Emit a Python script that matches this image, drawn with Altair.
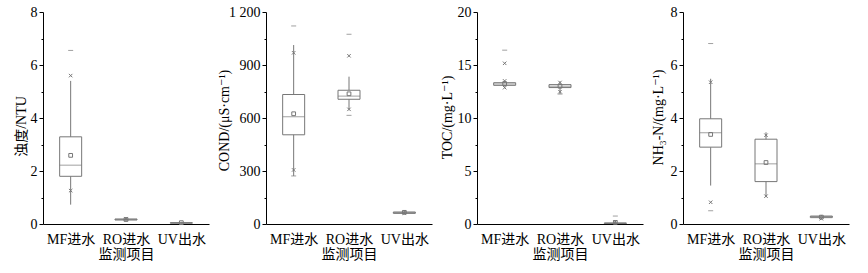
import altair as alt
import pandas as pd

CATEGORIES = ["MF进水", "RO进水", "UV出水"]
X_TITLE = "监测项目"

# Panel 1: turbidity
TURB_Q1 = [1.80, 0.15, 0.03]
TURB_MED = [2.22, 0.17, 0.04]
TURB_Q3 = [3.29, 0.19, 0.05]
TURB_MEAN = [2.59, 0.17, 0.05]
TURB_LO = [0.73, 0.11, 0.02]
TURB_HI = [5.40, 0.22, 0.08]
TURB_CROSS = [[1.26, 5.60], [0.20], []]
TURB_DASH = [[6.55], [], []]

# Panel 2: conductivity
COND_Q1 = [505, 706, 60]
COND_MED = [607, 724, 65]
COND_Q3 = [733, 757, 68]
COND_MEAN = [624, 737, 66]
COND_LO = [272, 649, 55]
COND_HI = [1013, 834, 76]
COND_CROSS = [[306, 969], [649, 952], [62]]
COND_DASH = [[272, 1121], [615, 1074], []]

# Panel 3: TOC
TOC_Q1 = [13.08, 12.87, 0.04]
TOC_MED = [13.20, 13.00, 0.07]
TOC_Q3 = [13.33, 13.15, 0.10]
TOC_MEAN = [13.25, 13.00, 0.15]
TOC_LO = [12.95, 12.26, 0.02]
TOC_HI = [13.45, 13.43, 0.30]
TOC_CROSS = [[12.86, 13.50, 15.16], [12.48, 13.35], [0.20]]
TOC_DASH = [[16.40], [12.26], [0.75]]

# Panel 4: NH3-N
NH3_Q1 = [2.90, 1.60, 0.24]
NH3_MED = [3.44, 2.27, 0.28]
NH3_Q3 = [3.97, 3.20, 0.30]
NH3_MEAN = [3.38, 2.32, 0.26]
NH3_LO = [1.45, 1.03, 0.18]
NH3_HI = [5.48, 3.46, 0.34]
NH3_CROSS = [[0.82, 5.35], [1.05, 3.35], [0.20]]
NH3_DASH = [[0.50, 6.81], [], []]

GRAY = "#777777"
FONT = "Liberation Serif, DejaVu Serif, Noto Sans CJK SC"
BOX_W = 22


def panel(q1, med, q3, mean, lo, hi, crosses, dashes, ymax, minor, major,
          ytitle, title_x, title_y):
    box_df = pd.DataFrame({"cat": CATEGORIES, "q1": q1, "med": med, "q3": q3,
                           "mean": mean, "lo": lo, "hi": hi})
    cross_df = pd.DataFrame([{"cat": c, "v": v}
                             for c, vs in zip(CATEGORIES, crosses) for v in vs])
    dash_df = pd.DataFrame([{"cat": c, "v": v}
                            for c, vs in zip(CATEGORIES, dashes) for v in vs])

    n = int(round(ymax / minor))
    vals = [round(i * minor, 4) for i in range(n + 1)]
    is_major = f"abs(datum.value / {major} - round(datum.value / {major})) < 0.000001"
    yaxis = alt.Axis(
        title=ytitle, values=vals, grid=False,
        labelExpr=f"{is_major} ? replace(format(datum.value, ','), ',', ' ') : ''",
        tickSize={"condition": {"test": is_major, "value": 4}, "value": 2},
        labelPadding=2, titleX=title_x, titleY=title_y,
        titleBaseline="middle", titleAngle=270,
    )
    yscale = alt.Scale(domain=[0, ymax], nice=False)
    x = alt.X("cat:N", sort=CATEGORIES,
              scale=alt.Scale(type="point", padding=0.5),
              axis=alt.Axis(title=X_TITLE, labelAngle=0, ticks=False,
                            labelPadding=8, titlePadding=1))

    whisker = alt.Chart(box_df).mark_rule(color=GRAY, strokeWidth=1).encode(
        x=x, y=alt.Y("lo:Q", scale=yscale, axis=yaxis), y2="hi:Q")
    box = alt.Chart(box_df).mark_bar(size=BOX_W, fill="white", stroke=GRAY,
                                     strokeWidth=1).encode(
        x=x, y=alt.Y("q1:Q", scale=yscale, axis=yaxis), y2="q3:Q")
    median = alt.Chart(box_df).mark_tick(size=BOX_W, thickness=1, color=GRAY).encode(
        x=x, y=alt.Y("med:Q", scale=yscale, axis=yaxis))
    mean_pt = alt.Chart(box_df).mark_point(shape="square", size=14, filled=False,
                                           color=GRAY, strokeWidth=1, opacity=1).encode(
        x=x, y=alt.Y("mean:Q", scale=yscale, axis=yaxis))
    cross = alt.Chart(cross_df).mark_point(shape="M-1,-1L1,1M-1,1L1,-1", size=12,
                                           filled=False, color=GRAY,
                                           strokeWidth=1, opacity=1).encode(
        x=x, y=alt.Y("v:Q", scale=yscale, axis=yaxis))
    dash = alt.Chart(dash_df).mark_tick(size=5, thickness=1, color=GRAY).encode(
        x=x, y=alt.Y("v:Q", scale=yscale, axis=yaxis))
    return alt.layer(whisker, box, median, mean_pt, cross, dash).properties(
        width=166, height=212)


p1 = panel(TURB_Q1, TURB_MED, TURB_Q3, TURB_MEAN, TURB_LO, TURB_HI, TURB_CROSS,
           TURB_DASH, 8, 1, 2, "浊度/NTU", -22, 114)
p2 = panel(COND_Q1, COND_MED, COND_Q3, COND_MEAN, COND_LO, COND_HI, COND_CROSS,
           COND_DASH, 1200, 150, 300, "COND/(μS·cm⁻¹)", -42, 108)
p3 = panel(TOC_Q1, TOC_MED, TOC_Q3, TOC_MEAN, TOC_LO, TOC_HI, TOC_CROSS,
           TOC_DASH, 20, 2.5, 5, "TOC/(mg·L⁻¹)", -30, 105)
p4 = panel(NH3_Q1, NH3_MED, NH3_Q3, NH3_MEAN, NH3_LO, NH3_HI, NH3_CROSS,
           NH3_DASH, 8, 1, 2, "NH₃-N/(mg·L⁻¹)", -25, 105)

chart = alt.hconcat(p1, p2, p3, p4, spacing=8).properties(
    padding={"left": 14, "top": 5, "right": 5, "bottom": 5},
    background="white",
).configure(font=FONT).configure_view(stroke=None).configure_axis(
    domainColor="black", tickColor="black", labelColor="black",
    titleColor="black", labelFontSize=14, titleFontSize=14,
    titleFontWeight="normal", labelFont=FONT, titleFont=FONT,
    domainWidth=1, tickWidth=1,
)

chart.save("out.html", embed_options={"renderer": "svg", "actions": False})
